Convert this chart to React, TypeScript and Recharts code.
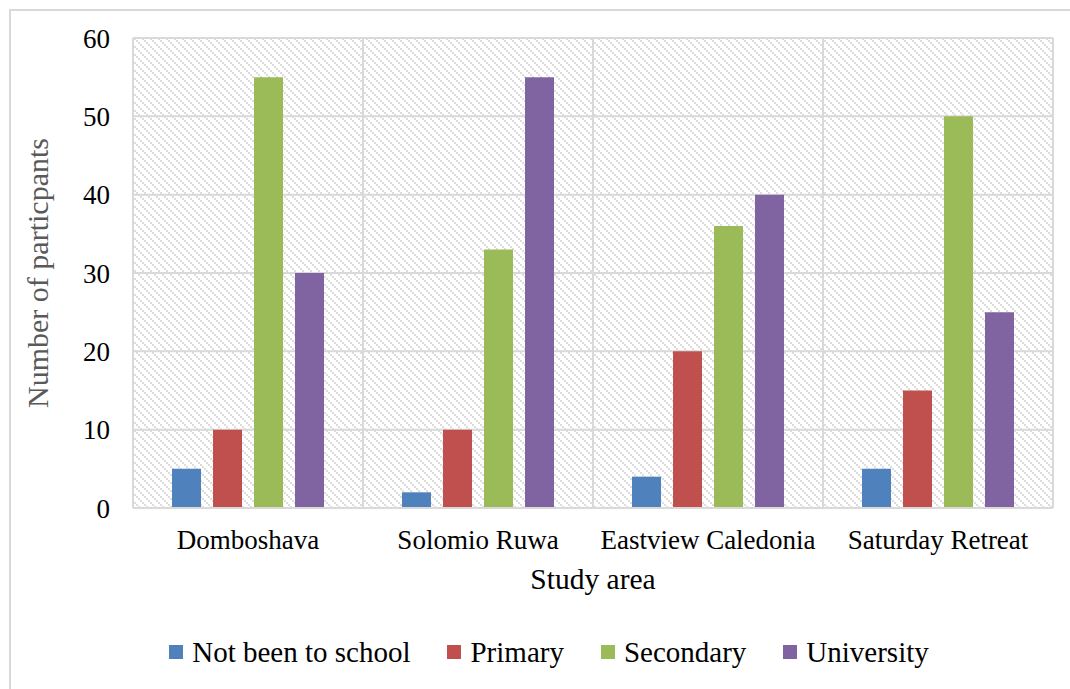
import React from "react";
import {
  BarChart,
  Bar,
  XAxis,
  YAxis,
  CartesianGrid,
} from "recharts";

const areas = ["Domboshava", "Solomio Ruwa", "Eastview Caledonia", "Saturday Retreat"];
const notBeenToSchool = [5, 2, 4, 5];
const primary = [10, 10, 20, 15];
const secondary = [55, 33, 36, 50];
const university = [30, 55, 40, 25];
const yTicks = [0, 10, 20, 30, 40, 50, 60];

const series = [
  { key: "none", name: "Not been to school", color: "#4F81BD" },
  { key: "primary", name: "Primary", color: "#C0504D" },
  { key: "secondary", name: "Secondary", color: "#9BBB59" },
  { key: "university", name: "University", color: "#8064A2" },
];

const data = areas.map((area, i) => ({
  area,
  none: notBeenToSchool[i],
  primary: primary[i],
  secondary: secondary[i],
  university: university[i],
}));

const FONT = "'Liberation Serif', 'Times New Roman', serif";
const GRID = "#d9d9d9";

// vertical grid lines sit on the category boundaries, not the centres
const boundaryLines = ({ offset }: any) =>
  areas.map((_, i) => offset.left + (i * offset.width) / areas.length).concat(offset.left + offset.width);

export default function App() {
  return (
    <div
      style={{
        position: "absolute",
        left: 0,
        top: 0,
        width: 1070,
        height: 689,
        background: "#fff",
        fontFamily: FONT,
      }}
    >
      <div
        style={{
          position: "absolute",
          left: 9,
          top: 9,
          width: 1070,
          height: 689,
          border: `2px solid ${GRID}`,
          boxSizing: "border-box",
        }}
      />
      <BarChart
        width={1070}
        height={689}
        data={data}
        margin={{ top: 38, right: 17, bottom: 121, left: 0 }}
        barCategoryGap={39}
        barGap={12}
        style={{ position: "absolute", left: 0, top: 0 }}
      >
        <defs>
          <pattern id="hatch" width="8" height="8" patternUnits="userSpaceOnUse">
            <rect width="8" height="8" fill="#ffffff" />
            <rect x="0" y="0" width="2" height="2" fill="#dcdcdc" />
            <rect x="2" y="2" width="2" height="2" fill="#dcdcdc" />
            <rect x="4" y="4" width="2" height="2" fill="#dcdcdc" />
            <rect x="6" y="6" width="2" height="2" fill="#dcdcdc" />
          </pattern>
        </defs>
        <CartesianGrid
          fill="url(#hatch)"
          fillOpacity={1}
          stroke={GRID}
          strokeWidth={2}
          verticalCoordinatesGenerator={boundaryLines}
        />
        <XAxis
          dataKey="area"
          height={60}
          axisLine={{ stroke: GRID, strokeWidth: 2 }}
          tickLine={false}
          tick={{ fontSize: 27, fill: "#000", fontFamily: FONT }}
          tickMargin={16}
          label={{
            value: "Study area",
            position: "insideBottom",
            offset: -21,
            style: { fontSize: 29.5, fill: "#000", fontFamily: FONT },
          }}
        />
        <YAxis
          width={133}
          domain={[0, 60]}
          ticks={yTicks}
          axisLine={false}
          tickLine={false}
          tick={{ fontSize: 27, fill: "#000", fontFamily: FONT }}
          tickMargin={17}
          label={{
            value: "Number of particpants",
            angle: -90,
            position: "insideLeft",
            offset: 37,
            style: { textAnchor: "middle", fontSize: 30, fill: "#595959", fontFamily: FONT },
          }}
        />
        {series.map((s) => (
          <Bar key={s.key} dataKey={s.key} name={s.name} fill={s.color} isAnimationActive={false} />
        ))}
      </BarChart>
      <div
        style={{
          position: "absolute",
          left: 0,
          width: 1098,
          top: 634,
          display: "flex",
          justifyContent: "center",
          gap: 37,
          fontSize: 29,
          color: "#000",
          lineHeight: "36px",
        }}
      >
        {series.map((s) => (
          <div key={s.key} style={{ display: "flex", alignItems: "center" }}>
            <span style={{ width: 14, height: 14, background: s.color, marginRight: 9 }} />
            {s.name}
          </div>
        ))}
      </div>
    </div>
  );
}
